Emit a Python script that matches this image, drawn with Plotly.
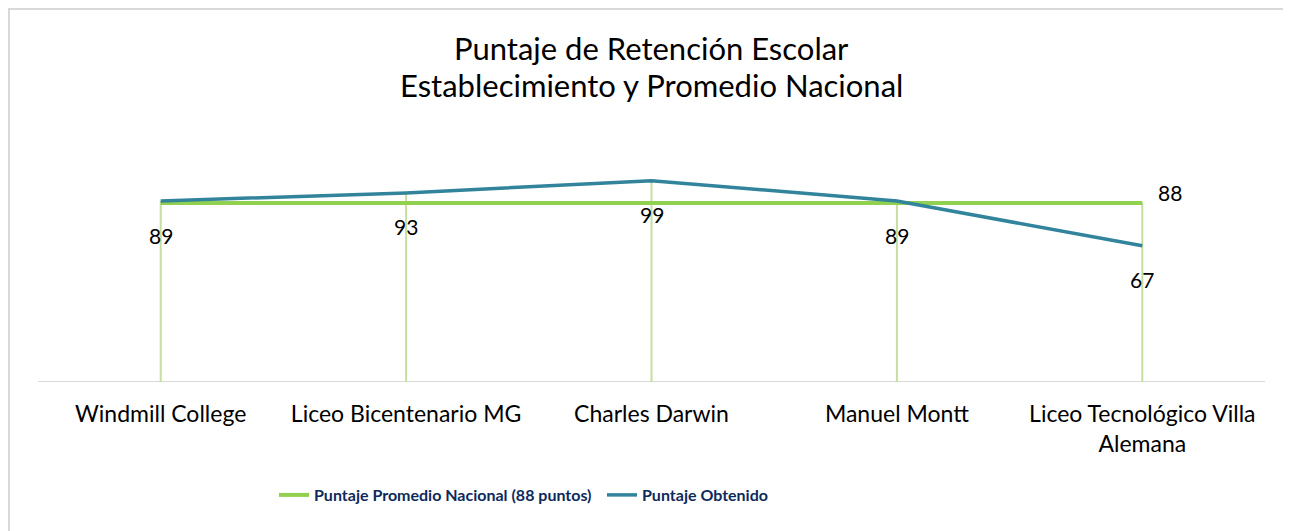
import plotly.graph_objects as go

categories = ["Windmill College", "Liceo Bicentenario MG", "Charles Darwin",
              "Manuel Montt", "Liceo Tecnológico Villa<br>Alemana"]
promedio_nacional = [88, 88, 88, 88, 88]
puntaje_obtenido = [89, 93, 99, 89, 67]
title_lines = ["Puntaje de Retención Escolar", "Establecimiento y Promedio Nacional"]

GREEN = "#92d050"
BLUE = "#31849b"
DROP = "#c4df9f"
FONT = "Lato"

W, H = 1291, 523
L, R, T, B = 30, 34, 130, 149
PW = W - L - R
PH = H - T - B

x_idx = list(range(len(categories)))

# drop lines from the highest series value down to the axis
drop_x, drop_y = [], []
for i, (a, b) in enumerate(zip(promedio_nacional, puntaje_obtenido)):
    drop_x += [i, i, None]
    drop_y += [0, max(a, b), None]

fig = go.Figure()
fig.add_trace(go.Scatter(x=drop_x, y=drop_y, mode="lines",
                         line=dict(color=DROP, width=2),
                         showlegend=False, hoverinfo="skip"))
fig.add_trace(go.Scatter(
    x=x_idx, y=promedio_nacional, mode="lines",
    name="Puntaje Promedio Nacional (88 puntos)",
    line=dict(color=GREEN, width=4),
))
fig.add_trace(go.Scatter(
    x=x_idx, y=puntaje_obtenido, mode="lines",
    name="Puntaje Obtenido",
    line=dict(color=BLUE, width=3.5),
))
# data labels below the obtained-score points
for i, v in enumerate(puntaje_obtenido):
    fig.add_annotation(x=i, y=v, text=str(v), showarrow=False,
                       yshift=-34, font=dict(family=FONT, size=21, color="#000000"))
# label of the national average at the last point
last = len(categories) - 1
fig.add_annotation(x=last, y=promedio_nacional[last], text=str(promedio_nacional[last]),
                   showarrow=False, xshift=28, yshift=11,
                   font=dict(family=FONT, size=21, color="#000000"))

# title as two centred lines
for k, (line, ypx) in enumerate(zip(title_lines, [40, 77])):
    fig.add_annotation(xref="paper", yref="paper", x=0.5, y=1 + (T - ypx) / PH,
                       xanchor="center", yanchor="middle", showarrow=False, text=line,
                       font=dict(family=FONT, size=31, color="#000000"))

fig.update_layout(
    width=W, height=H,
    paper_bgcolor="white", plot_bgcolor="white",
    margin=dict(l=L, r=R, t=T, b=B, autoexpand=False),
    xaxis=dict(tickmode="array", tickvals=x_idx, ticktext=categories,
               range=[-0.5, len(categories) - 0.5], showgrid=False, zeroline=False,
               showline=False, ticks="", ticklabelstandoff=16,
               tickfont=dict(family=FONT, size=23, color="#000000")),
    yaxis=dict(range=[0, 120], visible=False, showgrid=False, zeroline=False),
    legend=dict(orientation="h", x=(266 - L) / PW, xanchor="left",
                y=-(487 - (T + PH)) / PH, yanchor="middle",
                font=dict(family=FONT, size=16, color="#0d2a5c", weight="bold"),
                entrywidth=283, entrywidthmode="pixels", traceorder="normal",
                bgcolor="rgba(0,0,0,0)"),
    showlegend=True,
)
# horizontal axis baseline
fig.add_shape(type="line", xref="paper", yref="y", x0=0, x1=1, y0=0, y1=0,
              line=dict(color="#d9d9d9", width=2), layer="below")
# chart border (left and top visible)
fig.add_shape(type="rect", xref="paper", yref="paper",
              x0=(1 - L) / PW, x1=(W + 5 - L) / PW,
              y0=-(B + 5) / PH, y1=1 + (T - 1) / PH,
              line=dict(color="#d9d9d9", width=2), fillcolor="rgba(0,0,0,0)")

fig.write_html("out.html")
